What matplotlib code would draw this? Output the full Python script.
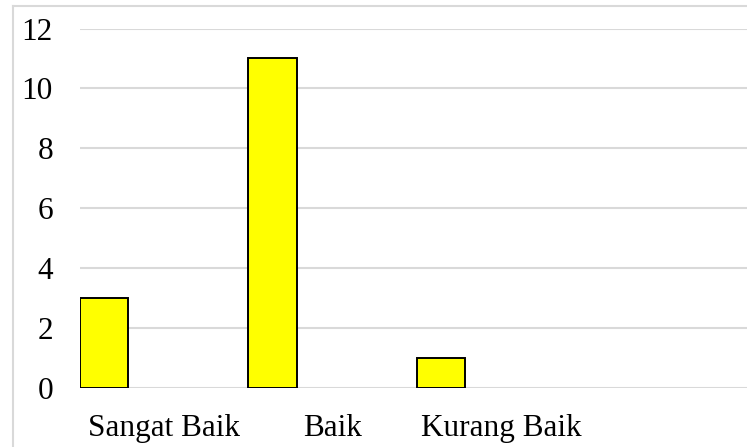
import matplotlib
matplotlib.use("Agg")
import matplotlib.pyplot as plt
from matplotlib.lines import Line2D

categories = ["Sangat Baik", "Baik", "Kurang Baik"]
values = [3, 11, 1]
yticks = [0, 2, 4, 6, 8, 10, 12]

W, H = 747, 447
fig = plt.figure(figsize=(W / 100, H / 100), dpi=100)
plt.rcParams['font.family'] = ['Liberation Serif', 'DejaVu Serif']

left_px, right_px, top_px, bottom_px = 80, 747, 28.5, 388
ax = fig.add_axes([left_px / W, (H - bottom_px) / H,
                   (right_px - left_px) / W, (bottom_px - top_px) / H])

slot = 168.5
bw = 48 / slot
xs = list(range(len(categories)))
ax.bar(xs, values, width=bw, align='edge', color='#ffff00',
       edgecolor='black', linewidth=1.4, zorder=3)

ax.set_xlim(0, (right_px - left_px) / slot)
ax.set_ylim(0, 12)
ax.set_yticks(yticks)
ax.set_yticklabels([str(v) for v in yticks], fontsize=22.5)
ax.set_xticks([x + 0.5 for x in xs])
ax.set_xticklabels(categories, fontsize=22.5)
ax.tick_params(axis='y', length=0, pad=19.5)
ax.tick_params(axis='x', length=0, pad=19)
for yv in yticks:
    ax.axhline(yv, color='#d9d9d9', linewidth=1.5, zorder=1)
for s in ax.spines.values():
    s.set_visible(False)

# outer chart border (cropped on right and bottom)
bx, by = 12.5, 5.5
fig.add_artist(Line2D([bx / W, bx / W], [0, 1 - by / H], color='#d9d9d9', linewidth=1.5,
                      transform=fig.transFigure))
fig.add_artist(Line2D([bx / W, 1], [1 - by / H, 1 - by / H], color='#d9d9d9', linewidth=1.5,
                      transform=fig.transFigure))

fig.savefig("out.png", dpi=100)
